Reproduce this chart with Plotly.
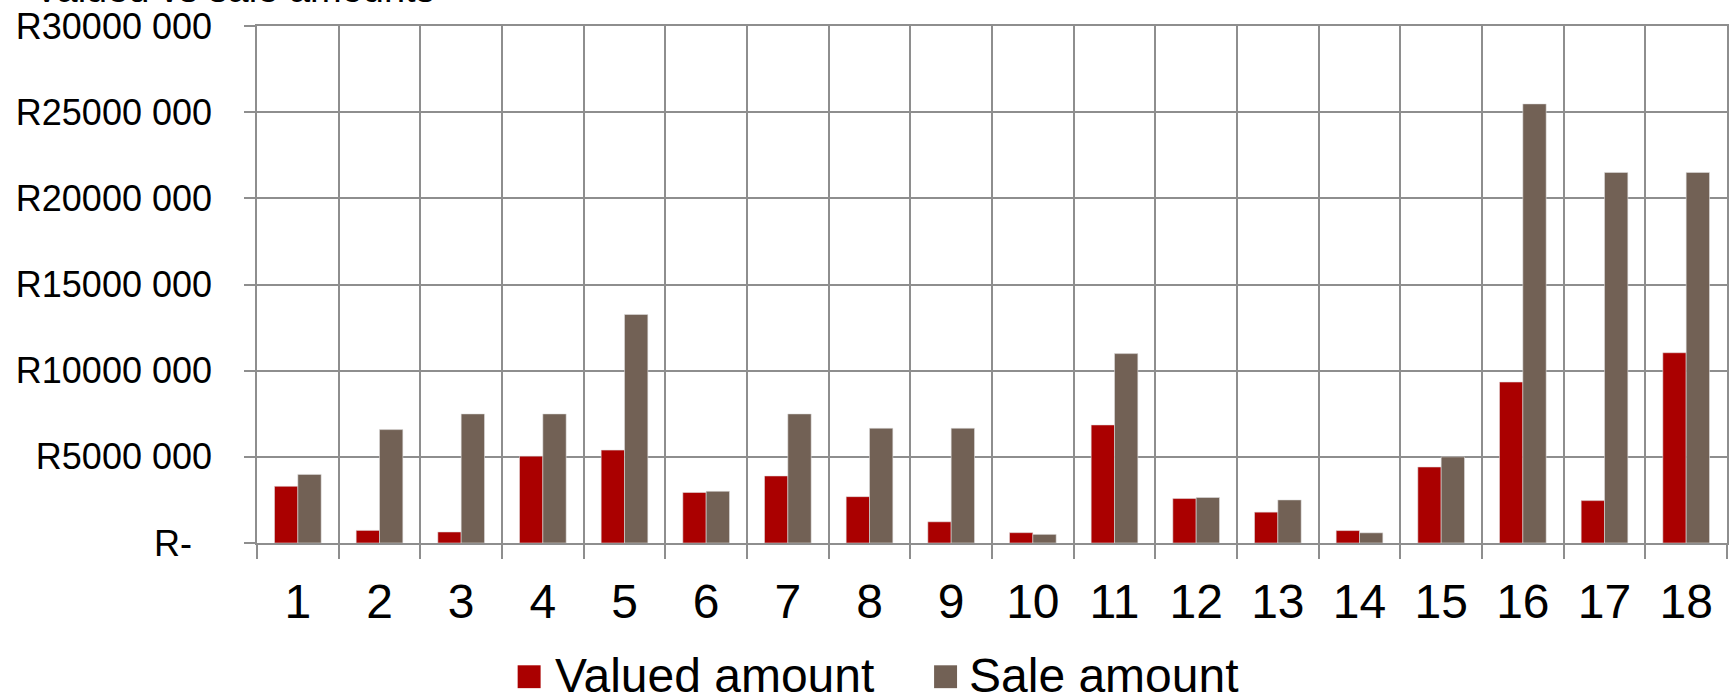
import plotly.graph_objects as go

# ---- data ----
categories = [str(i) for i in range(1, 19)]
valued_amount = [3.29e6, 0.73e6, 0.64e6, 5.04e6, 5.39e6, 2.93e6, 3.89e6, 2.69e6, 1.23e6,
                 0.60e6, 6.85e6, 2.58e6, 1.79e6, 0.72e6, 4.41e6, 9.34e6, 2.46e6, 11.04e6]
sale_amount = [3.98e6, 6.58e6, 7.49e6, 7.49e6, 13.26e6, 3.00e6, 7.49e6, 6.66e6, 6.66e6,
               0.50e6, 10.99e6, 2.64e6, 2.50e6, 0.59e6, 5.00e6, 25.48e6, 21.50e6, 21.50e6]
y_tick_values = [0, 5e6, 10e6, 15e6, 20e6, 25e6, 30e6]
y_tick_labels = ["R-\u00a0\u00a0", "R5000 000", "R10000 000", "R15000 000",
                 "R20000 000", "R25000 000", "R30000 000"]
series_names = ["Valued amount", "Sale amount"]
title_text = "Valued vs sale amounts"

# ---- styling ----
W, H = 1735, 697
ML, MR, MT, MB = 257, 6, 23, 154
PW, PH = W - ML - MR, H - MT - MB
FONT = "Liberation Sans, Arial, sans-serif"
RED = "#AA0000"
BROWN = "#726155"
GRID = "#8E8E8E"


def px_x(px):
    return (px - ML) / PW


def px_y(py):
    return (H - MB - py) / PH


fig = go.Figure()
for name, vals, col in [(series_names[0], valued_amount, RED),
                        (series_names[1], sale_amount, BROWN)]:
    fig.add_trace(go.Bar(
        x=categories, y=vals, name=name,
        marker=dict(color=col, line=dict(color="rgba(225,225,225,0.7)", width=0.8)),
        showlegend=False,
    ))

fig.update_layout(
    width=W, height=H,
    margin=dict(l=ML, r=MR, t=MT, b=MB, pad=0),
    paper_bgcolor="white", plot_bgcolor="white",
    barmode="group", bargap=1.5 / 3.5, bargroupgap=0,
    font=dict(family=FONT, color="black"),
    xaxis=dict(
        type="category", tickson="boundaries",
        showgrid=True, gridcolor=GRID, gridwidth=1.6,
        showline=True, linecolor=GRID, linewidth=1.6, mirror=True,
        ticks="outside", ticklen=14, tickwidth=1.6, tickcolor=GRID,
        tickfont=dict(size=48, family=FONT, color="black"),
        ticklabelstandoff=16,
    ),
    yaxis=dict(
        range=[0, 30e6],
        tickvals=y_tick_values, ticktext=y_tick_labels,
        showgrid=True, gridcolor=GRID, gridwidth=1.6,
        showline=True, linecolor=GRID, linewidth=1.6, mirror=True,
        zeroline=False,
        ticks="outside", ticklen=11, tickwidth=1.6, tickcolor=GRID,
        tickfont=dict(size=36, family=FONT, color="black"),
        ticklabelstandoff=25,
    ),
)

# legend drawn below the plot: coloured squares with labels
legend_items = [(series_names[0], RED, 518, 553), (series_names[1], BROWN, 935, 968)]
for label, col, sq_left, text_left in legend_items:
    fig.add_shape(type="rect", xref="paper", yref="paper",
                  x0=px_x(sq_left), x1=px_x(sq_left + 23),
                  y0=px_y(689), y1=px_y(666),
                  fillcolor=col, line=dict(width=0))
    fig.add_annotation(text=label, xref="paper", yref="paper",
                       x=px_x(text_left), y=px_y(676),
                       xanchor="left", yanchor="middle", showarrow=False,
                       font=dict(size=48, family=FONT, color="black"))

# slide title running off the top edge
fig.add_annotation(text=title_text, xref="paper", yref="paper",
                   x=px_x(32), y=px_y(-14), xanchor="left", yanchor="middle",
                   showarrow=False, font=dict(size=38, family=FONT, color="black"))

fig.write_html("out.html")
